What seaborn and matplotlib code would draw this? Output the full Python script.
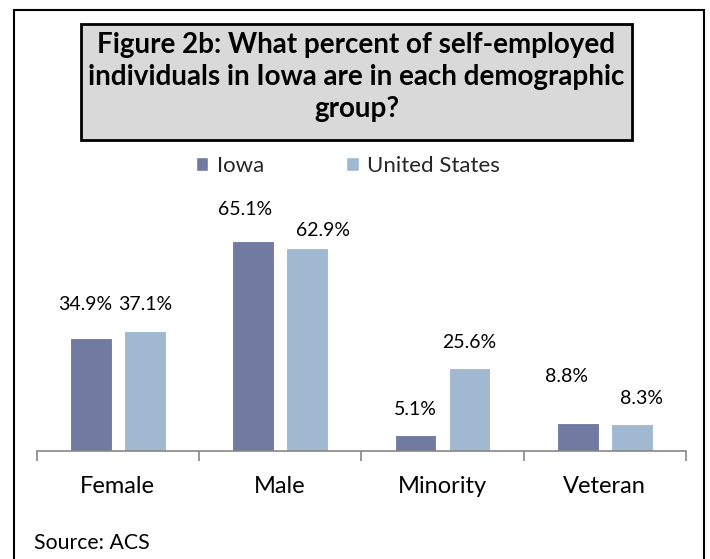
import matplotlib
matplotlib.use("Agg")
import matplotlib.pyplot as plt
from matplotlib.patches import Rectangle, Patch
import seaborn as sns
import pandas as pd

# ---- data ----
categories = ["Female", "Male", "Minority", "Veteran"]
iowa = [34.9, 65.1, 5.1, 8.8]
united_states = [37.1, 62.9, 25.6, 8.3]
series_names = ["Iowa", "United States"]
title = "Figure 2b: What percent of self-employed\nindividuals in Iowa are in each demographic\ngroup?"
source = "Source: ACS"

# ---- layout / style (pixels offsets for data labels: dx, dy above bar top) ----
label_offsets = {
    "Iowa": [(-6, 34), (-8, 31), (0, 25), (-11, 46)],
    "United States": [(0, 27), (16, 18), (0, 26), (10, 26)],
}
colors = ["#717AA1", "#A0B9D1"]

df = pd.DataFrame({
    "Category": categories * 2,
    "Region": [series_names[0]] * len(categories) + [series_names[1]] * len(categories),
    "Value": iowa + united_states,
})

sns.set_theme(style="white")
plt.rcParams["font.family"] = ["Lato", "DejaVu Sans"]

W, H = 710, 559
fig = plt.figure(figsize=(W / 100, H / 100), dpi=100)
fig.patch.set_facecolor("white")

def fx(px):
    return px / W

def fy(py):
    return 1 - py / H

ax_left, ax_right = 36.7, 686
baseline = 451
ymax = 70
px_per_unit = 3.226
ax_top = baseline - ymax * px_per_unit
ax = fig.add_axes([fx(ax_left), fy(baseline), fx(ax_right - ax_left), (baseline - ax_top) / H])

sns.barplot(data=df, x="Category", y="Value", hue="Region", order=categories,
            hue_order=series_names, palette=colors, width=0.664, gap=0.229,
            edgecolor="white", linewidth=0.8, legend=False, ax=ax, saturation=1)

ax.set_xlim(-0.5, len(categories) - 0.5)
ax.set_ylim(0, ymax)
ax.set_xlabel("")
ax.set_ylabel("")
ax.set_yticks([])
for s in ["top", "right", "left"]:
    ax.spines[s].set_visible(False)
ax.spines["bottom"].set_color("#868686")
ax.spines["bottom"].set_linewidth(1.2)
ax.set_facecolor("none")
ax.set_xticks(range(len(categories)))
ax.set_xticklabels(categories, fontsize=17, color="#000000")
ax.tick_params(axis="x", which="major", length=0, pad=18, bottom=True)
ax.set_xticks([i - 0.5 for i in range(len(categories) + 1)], minor=True)
ax.tick_params(axis="x", which="minor", length=7, width=1.2, color="#868686",
               direction="out", bottom=True)

# data labels
for cont, name in zip(ax.containers, series_names):
    for patch, (dx, dy) in zip(cont.patches, label_offsets[name]):
        xc = patch.get_x() + patch.get_width() / 2
        h = patch.get_height()
        ax.annotate(f"{h:.1f}%", xy=(xc, h), xytext=(dx * 0.72, dy * 0.72),
                    textcoords="offset points", ha="center", va="center",
                    fontsize=14, color="#000000", annotation_clip=False)

# outer border
fig.add_artist(Rectangle((fx(14), -0.02), fx(704 - 14), fy(10) + 0.02,
                         transform=fig.transFigure, fill=False,
                         edgecolor="black", linewidth=1.5, clip_on=False))
# title box
fig.add_artist(Rectangle((fx(81), fy(140)), fx(632 - 81), (140 - 24) / H,
                         transform=fig.transFigure, facecolor="#D9D9D9",
                         edgecolor="black", linewidth=2))
fig.text(fx(356.5), fy(77), title, ha="center", va="center", fontsize=20,
         fontweight="bold", linespacing=1.3, color="black")

handles = [Patch(facecolor=c, edgecolor="white", label=n) for c, n in zip(colors, series_names)]
fig.legend(handles=handles, loc="center", bbox_to_anchor=(fx(348), fy(165.7)), ncol=2,
           frameon=False, fontsize=16, handlelength=0.55, handleheight=0.55,
           handletextpad=0.4, columnspacing=3.7)

fig.text(fx(34), fy(543), source, ha="left", va="center", fontsize=15.3, color="black")

fig.savefig("out.png", dpi=100)
